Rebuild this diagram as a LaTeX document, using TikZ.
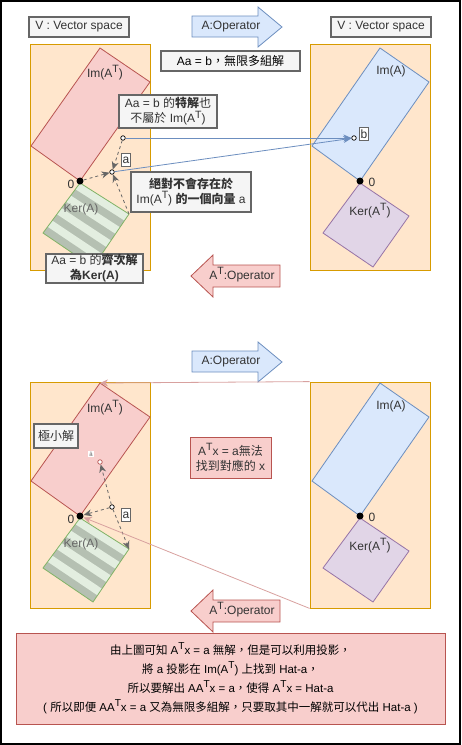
\documentclass[tikz,border=0pt]{standalone}
\usepackage{fontspec}
\setmainfont{Liberation Sans}
\newfontfamily\cjk{Noto Sans CJK TC}
\usetikzlibrary{calc,arrows.meta}
\definecolor{spacefill}{HTML}{FFE6CC}
\definecolor{spaceline}{HTML}{D79B00}
\definecolor{redfill}{HTML}{F8CECC}
\definecolor{redline}{HTML}{B85450}
\definecolor{bluefill}{HTML}{DAE8FC}
\definecolor{blueline}{HTML}{6C8EBF}
\definecolor{purfill}{HTML}{E1D5E7}
\definecolor{purline}{HTML}{9673A6}
\definecolor{kerdark}{HTML}{B5C0B2}
\definecolor{kerlight}{HTML}{E3EEE0}
\definecolor{kerline}{HTML}{82B366}
\definecolor{notefill}{HTML}{F5F5F5}
\definecolor{noteline}{HTML}{666666}
\definecolor{txt}{HTML}{333333}
\newcommand{\zh}[1]{{\cjk #1}}
\newcommand{\opAT}{A\raisebox{0.4em}{\scalebox{0.88}{T}}}
\tikzset{
  every node/.style={font=\fontsize{12}{15}\selectfont, text=txt},
  space/.style={draw=spaceline, fill=spacefill, minimum width=120pt, minimum height=226pt, inner sep=0pt},
  note/.style={draw=noteline, fill=notefill, line width=1.1pt, align=center, inner sep=0pt},
  tag/.style={draw=noteline, fill=white, inner sep=1pt, minimum height=13pt},
  imAT/.style={draw=redline, fill=redfill},
  imA/.style={draw=blueline, fill=bluefill},
  kerAT/.style={draw=purline, fill=purfill},
  origin/.style={circle, fill=black, inner sep=0pt, minimum size=7pt},
  vec/.style={circle, draw=black, fill=white, line width=0.7pt, inner sep=0pt, minimum size=4.5pt},
  proj/.style={dashed, draw=noteline, -{Stealth[length=8pt,width=7pt]}},
  mapto/.style={draw=blueline, -{Stealth[length=8pt,width=7pt]}},
  back/.style={draw=redline!55, -{Stealth[length=8pt,width=7pt]}},
  opright/.style={draw=blueline, fill=bluefill},
  opleft/.style={draw=redline, fill=redfill}
}
\begin{document}
\begin{tikzpicture}[x=1pt, y=-1pt, line width=0.8pt]
\useasboundingbox (0,0) rectangle (461,745);
\draw[line width=2pt] (1,1) rectangle (460,744);

% the two pictures share the same spaces
\foreach \dy/\ry/\s in {0/0/1, 335/338/2}{
  \node[space] (lv\s) at (90,157+\ry) {};
  \node[space] (rv\s) at (370,157+\ry) {};
  % Im(A^T) and Ker(A)
  \coordinate (it\s) at (100,48+\dy);
  \draw[imAT] (it\s) -- (150,82+\dy) -- (80,181+\dy) -- (31,146+\dy) -- cycle;
  \node (imt\s) at (105,73+\dy) {Im(\opAT)};
  \coordinate (k1) at (80,183+\dy);
  \coordinate (kr\s) at (129,214+\dy);
  \coordinate (k3) at (93,267+\dy);
  \coordinate (k4) at (43,233+\dy);
  \fill[kerdark] (k1) -- (kr\s) -- (k3) -- (k4) -- cycle;
  \foreach \t [evaluate=\t as \ta using \t/8, evaluate=\t as \tb using (\t+1)/8] in {0,2,4,6}
    \fill[kerlight] ($(k1)!\ta!(k4)$) -- ($(kr\s)!\ta!(k3)$) -- ($(kr\s)!\tb!(k3)$) -- ($(k1)!\tb!(k4)$) -- cycle;
  \draw[kerline] (k1) -- (kr\s) -- (k3) -- (k4) -- cycle;
  \node[text=noteline] (kn\s) at (81,209+\dy) {Ker(A)};
  % Im(A) and Ker(A^T)
  \draw[imA] (380,48+\dy) -- (429,82+\dy) -- (360,181+\dy) -- (312,146+\dy) -- cycle;
  \node (ima\s) at (391,71+\dy) {Im(A)};
  \draw[kerAT] (360,183+\dy) -- (409,216+\dy) -- (373,267+\dy) -- (323,233+\dy) -- cycle;
  \node (kat\s) at (370,211+\dy) {Ker(\opAT)};
  % origins
  \node[origin] (o\s) at (80,181+\dy) {};
  \node (z\s) at (71,184+\dy) {0};
  \node[origin] (q\s) at (360,181+\dy) {};
  \node (zq\s) at (372,182+\dy) {0};
  % operators
  \draw[opright] (192,16+\dy) -- (258,16+\dy) -- (258,7+\dy) -- (282,27+\dy) -- (258,47+\dy) -- (258,37+\dy) -- (192,37+\dy) -- cycle;
  \node (opa\s) at (231,27+\dy) {A:Operator};
  \draw[opleft] (280,265+\dy) -- (213,265+\dy) -- (213,255+\dy) -- (191,276+\dy) -- (213,297+\dy) -- (213,287+\dy) -- (280,287+\dy) -- cycle;
  \node (opt\s) at (242,275+\dy) {\opAT:Operator};
}

% top: Aa = b
\node[note, minimum width=100pt, minimum height=20pt] (vs1) at (79,27) {V : Vector space};
\node[note, minimum width=100pt, minimum height=20pt] (vs2) at (381,27) {V : Vector space};
\node[note, line width=1.6pt, minimum width=139pt, minimum height=20pt, text=black] (inf) at (230.5,61) {Aa = b\zh{，無限多組解}};
\node[vec] (p1) at (123,138) {};
\node[vec] (a1) at (112,172) {};
\node[vec] (b1) at (354,138) {};
\draw[proj] (o1) -- (a1);
\draw[proj] (p1) -- (a1);
\draw[proj] (kr1) -- (a1);
\draw[mapto] (p1) -- (b1);
\draw[mapto] (a1) -- (b1);
\node[tag] (ta1) at (126,160) {a};
\node[tag] (tb1) at (364,134) {b};
\node[note, minimum width=98pt, minimum height=33pt] (part) at (168,111.5) {Aa = b \zh{的\textbf{特解}也}\\\zh{不屬於} Im(\opAT)};
\node[note, minimum width=120pt, minimum height=40pt] (never) at (191,192) {\zh{\textbf{絕對不會存在於}}\\Im(\opAT) \zh{\textbf{的一個向量}} a};
\node[note, minimum width=97pt, minimum height=29pt] (homo) at (94.5,268.5) {Aa = b \zh{的\textbf{齊次解}}\\\textbf{\zh{為}Ker(A)}};

% bottom: A^T x = a
\node[vec] (a2) at (112,507) {};
\node[vec, draw=redline] (h2) at (100,462) {};
\draw[proj] (a2) -- (o2);
\draw[proj] (a2) -- (h2);
\draw[proj] (a2) -- (kr2);
\draw[back] (rv2.north west) -- (it2);
\draw[back] (rv2.south west) -- (o2);
\node[tag] (ta2) at (126,515) {a};
\node[fill=white, inner sep=1pt, font=\fontsize{6}{7}\selectfont, text=noteline] (th2) at (91,454) {â};
\node[note, minimum width=44pt, minimum height=24pt] (least) at (56,436) {\zh{極小解}};
\node[draw=redline, fill=redfill, align=center, inner sep=0pt, minimum width=81pt, minimum height=41pt] (nosol) at (230.5,457.5) {\opAT x = a\zh{無法}\\\zh{找到對應的} x};
\node[draw=redline, fill=redfill, align=center, inner sep=0pt, minimum width=429pt, minimum height=91pt, font=\fontsize{11.5}{19}\selectfont, text=black] (sum) at (230.5,678.5) {\zh{由上圖可知} \opAT x = a \zh{無解，但是可以利用投影，}\\\zh{將} a \zh{投影在} Im(\opAT) \zh{上找到} Hat-a\zh{，}\\\zh{所以要解出} A\opAT x = a\zh{，使得} \opAT x = Hat-a\\( \zh{所以即便} A\opAT x = a \zh{又為無限多組解，只要取其中一解就可以代出} Hat-a )};
\end{tikzpicture}
\end{document}
